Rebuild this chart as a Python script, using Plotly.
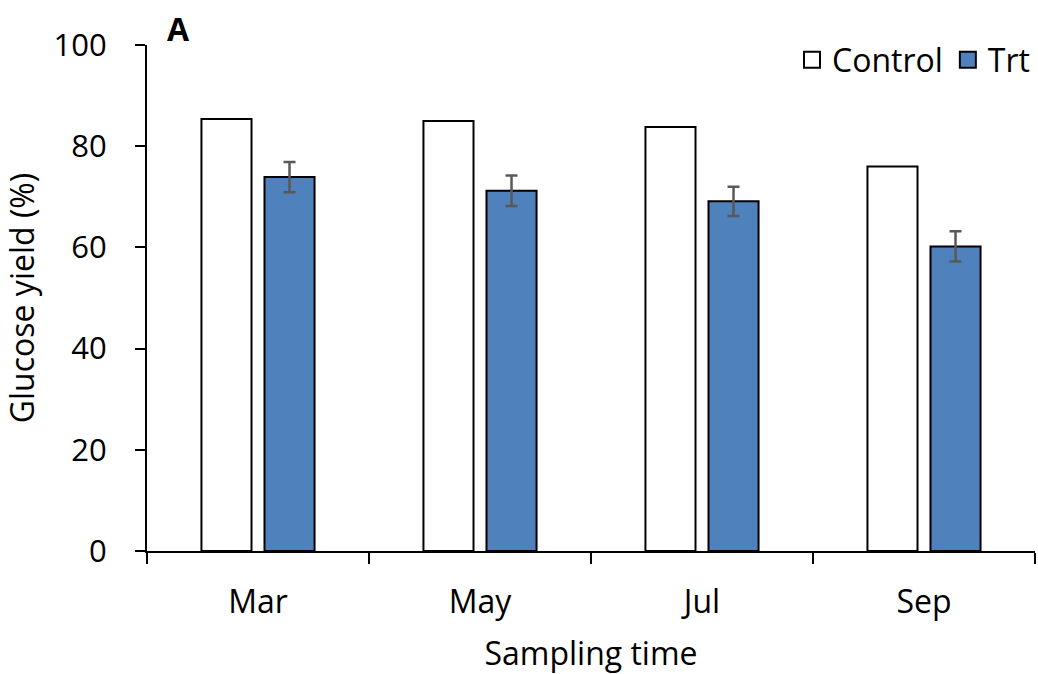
import plotly.graph_objects as go

categories = ["Mar", "May", "Jul", "Sep"]
control = [85.4, 85.0, 83.8, 76.0]
trt = [73.9, 71.2, 69.1, 60.2]
trt_err = [3.0, 3.0, 2.9, 3.0]

FONT = "'Open Sans', sans-serif"
CTRL_COLOR = "white"
TRT_COLOR = "#4F81BD"

fig = go.Figure()
fig.add_trace(go.Bar(
    x=categories, y=control, name="Control", showlegend=False,
    marker=dict(color=CTRL_COLOR, line=dict(color="black", width=2)),
))
fig.add_trace(go.Bar(
    x=categories, y=trt, name="Trt", showlegend=False,
    marker=dict(color=TRT_COLOR, line=dict(color="black", width=2)),
    error_y=dict(type="data", array=trt_err, visible=True,
                 color="#595959", thickness=2.5, width=6),
))
# legend-only entries with larger square symbols
for name, col in [("Control", CTRL_COLOR), ("Trt", TRT_COLOR)]:
    fig.add_trace(go.Scatter(
        x=[None], y=[None], mode="markers", name=name,
        marker=dict(symbol="square", size=16, color=col,
                    line=dict(color="black", width=2)),
    ))

fig.update_layout(
    width=1038, height=674,
    margin=dict(l=147, r=3, t=45, b=123),
    plot_bgcolor="white", paper_bgcolor="white",
    barmode="group", bargap=0.432, bargroupgap=0.206,
    font=dict(family=FONT, size=32, color="black"),
    showlegend=True,
    legend=dict(orientation="h", x=1.0, xanchor="right", y=1.025, yanchor="top",
                font=dict(size=32), itemwidth=30, traceorder="normal",
                bgcolor="rgba(0,0,0,0)"),
    xaxis=dict(
        showline=True, linecolor="black", linewidth=2,
        ticks="outside", ticklen=11, tickwidth=2, tickcolor="black",
        tickson="boundaries", showgrid=False,
        tickfont=dict(size=32), ticklabelstandoff=22,
        title=dict(text="Sampling time", font=dict(size=32), standoff=24),
    ),
    yaxis=dict(
        range=[0, 100], dtick=20, showline=True, linecolor="black", linewidth=2,
        ticks="outside", ticklen=10, tickwidth=2, tickcolor="black",
        showgrid=False, zeroline=False,
        tickfont=dict(size=31), ticklabelstandoff=22,
        title=dict(text="Glucose yield (%)", font=dict(size=32), standoff=14),
    ),
)
fig.add_annotation(text="<b>A</b>", xref="paper", yref="paper",
                   x=(178 - 147) / 888, y=1 + 16 / 506, xanchor="center", yanchor="middle",
                   showarrow=False, font=dict(size=32))

fig.write_html("out.html")
